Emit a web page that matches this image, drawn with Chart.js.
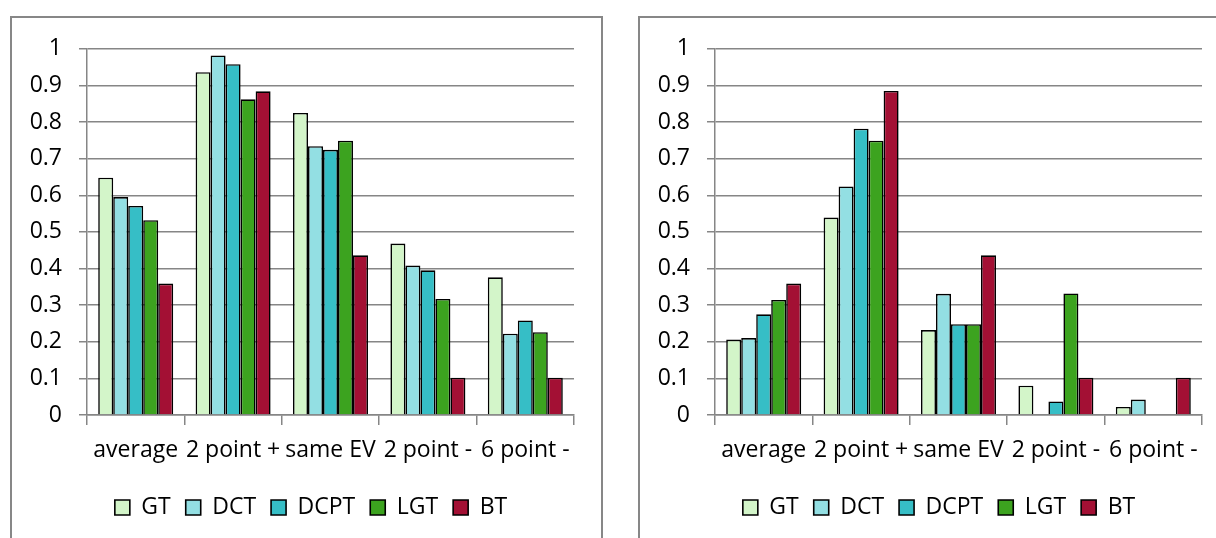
<!DOCTYPE html>
<html>
<head>
<meta charset="utf-8">
<script src="https://cdn.jsdelivr.net/npm/chart.js@4.4.1/dist/chart.umd.min.js"></script>
<style>
  html, body { margin: 0; padding: 0; background: #fff; overflow: hidden; }
  body { width: 1216px; height: 538px; position: relative; }
  .panel {
    position: absolute;
    top: 16px;
    width: 589px;
    height: 600px;
    border: 2px solid #878787;
    background: #fff;
  }
  .panel canvas { position: absolute; left: 0; top: 0; }
</style>
</head>
<body>
<div class="panel" style="left:10px;"><canvas id="chart-left"></canvas></div>
<div class="panel" style="left:638px;"><canvas id="chart-right"></canvas></div>
<script>
var CATEGORIES = ['average', '2 point +', 'same EV', '2 point -', '6 point -'];
var SERIES_NAMES = ['GT', 'DCT', 'DCPT', 'LGT', 'BT'];
var Y_TICKS = [0, 0.1, 0.2, 0.3, 0.4, 0.5, 0.6, 0.7, 0.8, 0.9, 1];

// left chart
var LEFT_GT = [0.648, 0.936, 0.825, 0.468, 0.376];
var LEFT_DCT = [0.595, 0.982, 0.734, 0.408, 0.222];
var LEFT_DCPT = [0.571, 0.958, 0.724, 0.395, 0.258];
var LEFT_LGT = [0.532, 0.862, 0.749, 0.317, 0.226];
var LEFT_BT = [0.359, 0.884, 0.436, 0.102, 0.102];

// right chart
var RIGHT_GT = [0.206, 0.539, 0.232, 0.080, 0.022];
var RIGHT_DCT = [0.210, 0.624, 0.331, 0, 0.042];
var RIGHT_DCPT = [0.275, 0.782, 0.248, 0.037, 0];
var RIGHT_LGT = [0.314, 0.749, 0.248, 0.332, 0];
var RIGHT_BT = [0.359, 0.885, 0.436, 0.102, 0.102];

(function () {
  var SERIES_COLORS = ['#d3f5c9', '#93dfe3', '#36bec6', '#3ca31f', '#a31034'];
  var GRID_COLOR = '#868686';
  var FONT = { family: '"Open Sans", Lato, sans-serif', size: 23 };
  var CANVAS_W = 589;
  var CANVAS_H = 520;
  var LEGEND_SHIFT = 18;

  // legend sits centred on the whole panel, not on the padded area
  var shiftLegend = {
    id: 'shiftLegend',
    afterLayout: function (chart) {
      if (!chart.legend) return;
      chart.legend.left += LEGEND_SHIFT;
      chart.legend.right += LEGEND_SHIFT;
    }
  };

  function buildDatasets(seriesValues) {
    return seriesValues.map(function (values, i) {
      return {
        label: SERIES_NAMES[i],
        data: values,
        backgroundColor: SERIES_COLORS[i],
        borderColor: '#000000',
        borderWidth: function (ctx) {
          if (ctx.type === 'data' && ctx.raw === 0) return 0;
          return 1.6;
        },
        borderSkipped: 'start',
        categoryPercentage: 0.77,
        barPercentage: 1
      };
    });
  }

  function makeChart(canvasId, seriesValues) {
    var canvas = document.getElementById(canvasId);
    canvas.width = CANVAS_W;
    canvas.height = CANVAS_H;
    canvas.style.width = CANVAS_W + 'px';
    canvas.style.height = CANVAS_H + 'px';

    return new Chart(canvas, {
      type: 'bar',
      data: {
        labels: CATEGORIES,
        datasets: buildDatasets(seriesValues)
      },
      options: {
        responsive: false,
        animation: false,
        devicePixelRatio: 1,
        layout: {
          padding: { left: 0, right: 27, top: 28, bottom: 9 }
        },
        scales: {
          x: {
            grid: {
              display: true,
              drawOnChartArea: false,
              drawTicks: true,
              tickLength: 10,
              color: GRID_COLOR,
              lineWidth: 1.5
            },
            border: { display: true, color: GRID_COLOR, width: 1.5 },
            ticks: {
              color: '#000000',
              font: FONT,
              maxRotation: 0,
              autoSkip: false,
              padding: 12
            },
            afterFit: function (scale) {
              scale.height = 66;
            }
          },
          y: {
            min: 0,
            max: 1,
            afterBuildTicks: function (scale) {
              scale.ticks = Y_TICKS.map(function (v) { return { value: v }; });
            },
            grid: {
              color: GRID_COLOR,
              lineWidth: 1.5,
              tickLength: 8
            },
            border: { display: true, color: GRID_COLOR, width: 1.5 },
            ticks: {
              color: '#000000',
              font: FONT,
              padding: 17,
              callback: function (value) {
                return String(Math.round(value * 10) / 10);
              }
            },
            afterFit: function (scale) {
              scale.width = 75;
            }
          }
        },
        plugins: {
          legend: {
            display: true,
            position: 'bottom',
            labels: {
              color: '#000000',
              font: FONT,
              boxWidth: 15,
              boxHeight: 15,
              padding: 15
            }
          },
          tooltip: { enabled: false }
        }
      },
      plugins: [shiftLegend]
    });
  }

  makeChart('chart-left', [LEFT_GT, LEFT_DCT, LEFT_DCPT, LEFT_LGT, LEFT_BT]);
  makeChart('chart-right', [RIGHT_GT, RIGHT_DCT, RIGHT_DCPT, RIGHT_LGT, RIGHT_BT]);
})();
</script>
</body>
</html>
